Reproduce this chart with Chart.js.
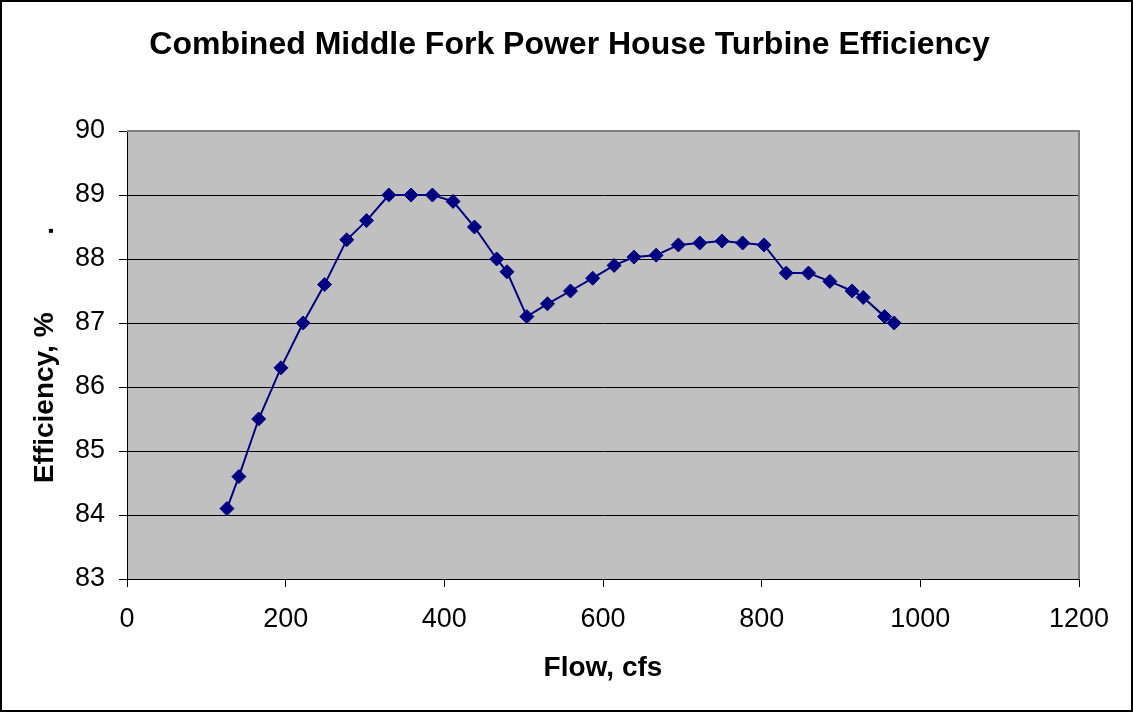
<!DOCTYPE html>
<html>
<head>
<meta charset="utf-8">
<script src="https://cdn.jsdelivr.net/npm/chart.js@4.4.1/dist/chart.umd.min.js"></script>
<style>
  body { margin: 0; background: #fff; }
  #wrap { width: 1133px; height: 712px; }
</style>
</head>
<body>
<div id="wrap"><canvas id="chart" width="1133" height="712"></canvas></div>
<script>
// flow (cfs) and combined turbine efficiency (%)
const flows = [126, 141, 166, 194, 222, 249, 277, 302, 330, 358, 385, 411, 438, 466, 479, 504, 530,
  559, 587, 614, 639, 667, 695, 722, 750, 776, 803, 831, 859, 886, 914, 928, 955, 967];
const efficiency = [84.1, 84.6, 85.5, 86.3, 87.0, 87.6, 88.3, 88.6, 89.0, 89.0, 89.0, 88.9, 88.5, 88.0, 87.8, 87.1, 87.3,
  87.5, 87.7, 87.9, 88.03, 88.06, 88.22, 88.25, 88.28, 88.25, 88.22, 87.78, 87.78, 87.65, 87.5, 87.4, 87.1, 87.0];

const xTicks = [0, 200, 400, 600, 800, 1000, 1200];
const yTicks = [83, 84, 85, 86, 87, 88, 89, 90];

const chartTitle = 'Combined Middle Fork Power House Turbine Efficiency';
const xTitle = 'Flow, cfs';
const yTitle = 'Efficiency, %          .';

const FONT = "'Liberation Sans', Arial, sans-serif";
const NAVY = '#000080';

const points = flows.map((f, i) => ({ x: f, y: efficiency[i] }));

// grey plot area, frame lines and the outer border
const plotFrame = {
  id: 'plotFrame',
  beforeDraw(chart) {
    const { ctx, chartArea: a, width, height } = chart;
    ctx.save();
    ctx.fillStyle = '#fff';
    ctx.fillRect(0, 0, width, height);
    ctx.fillStyle = '#c0c0c0';
    ctx.fillRect(a.left, a.top, a.right - a.left, a.bottom - a.top);
    ctx.strokeStyle = '#000';
    ctx.lineWidth = 2;
    ctx.strokeRect(1, 1, width - 2, height - 2);
    ctx.restore();
  },
  beforeDatasetsDraw(chart) {
    const { ctx, chartArea: a } = chart;
    ctx.save();
    ctx.strokeStyle = '#808080';
    ctx.lineWidth = 2;
    ctx.beginPath();
    ctx.moveTo(a.left, a.top);
    ctx.lineTo(a.right, a.top);
    ctx.lineTo(a.right, a.bottom);
    ctx.stroke();
    ctx.restore();
  }
};

new Chart(document.getElementById('chart'), {
  type: 'scatter',
  data: {
    datasets: [{
      label: 'Efficiency',
      data: points,
      showLine: true,
      borderColor: NAVY,
      borderWidth: 2,
      backgroundColor: NAVY,
      pointStyle: 'rectRot',
      pointRadius: 7,
      pointBorderWidth: 1,
      pointBorderColor: NAVY,
      pointBackgroundColor: NAVY,
      tension: 0
    }]
  },
  options: {
    responsive: false,
    devicePixelRatio: 1,
    animation: false,
    layout: { padding: { left: 6, right: 0, top: 0, bottom: 0 } },
    plugins: {
      legend: { display: false },
      tooltip: { enabled: false },
      title: {
        display: true,
        text: chartTitle,
        color: '#000',
        font: { family: FONT, size: 32, weight: 'bold', lineHeight: 1.2 },
        padding: { top: 26.4, bottom: 66.2 }
      }
    },
    scales: {
      x: {
        type: 'linear',
        min: 0,
        max: 1200,
        afterBuildTicks: s => { s.ticks = xTicks.map(v => ({ value: v })); },
        afterFit: s => { s.height = 133; s.paddingRight = 54; s.paddingLeft = 0; },
        ticks: {
          color: '#000',
          font: { family: FONT, size: 27, lineHeight: 1.2 },
          padding: 16.8,
          maxRotation: 0,
          autoSkip: false,
          callback: v => String(v)
        },
        grid: { color: 'rgba(0,0,0,0)', tickColor: '#000', tickLength: 8, lineWidth: 1 },
        border: { color: '#000', width: 1 },
        title: {
          display: true,
          text: xTitle,
          color: '#000',
          font: { family: FONT, size: 28, weight: 'bold', lineHeight: 1.2 },
          padding: { top: 0, bottom: 26.6 }
        }
      },
      y: {
        type: 'linear',
        min: 83,
        max: 90,
        afterBuildTicks: s => { s.ticks = yTicks.map(v => ({ value: v })); },
        afterFit: s => { s.width = 121; },
        ticks: {
          color: '#000',
          font: { family: FONT, size: 27, lineHeight: 1.2 },
          padding: 14,
          callback: v => String(v)
        },
        grid: { color: '#000', tickColor: '#000', tickLength: 8, lineWidth: 1 },
        border: { color: '#000', width: 1 },
        title: {
          display: true,
          text: yTitle,
          color: '#000',
          font: { family: FONT, size: 28, weight: 'bold', lineHeight: 1.2 },
          padding: { top: 22.5, bottom: 0 }
        }
      }
    }
  },
  plugins: [plotFrame]
});
</script>
</body>
</html>
